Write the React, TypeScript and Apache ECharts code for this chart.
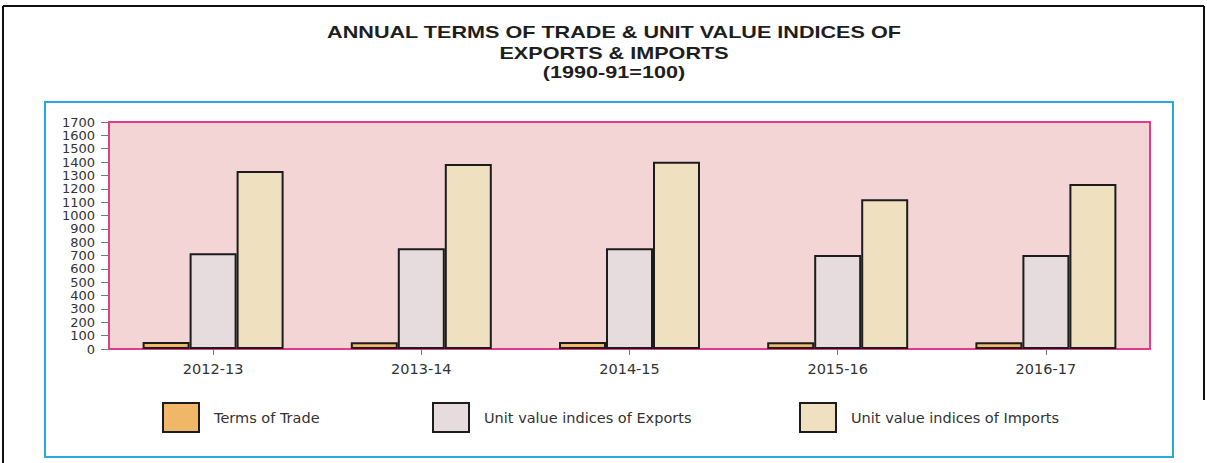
import React, { useEffect, useRef } from 'react';
import * as echarts from 'echarts';

const categories = ['2012-13', '2013-14', '2014-15', '2015-16', '2016-17'];
const termsOfTrade = [52, 50, 52, 50, 50];
const exportIndices = [718, 754, 754, 704, 704];
const importIndices = [1333, 1386, 1403, 1121, 1236];
const seriesNames = ['Terms of Trade', 'Unit value indices of Exports', 'Unit value indices of Imports'];
const titleLines = ['ANNUAL TERMS OF TRADE & UNIT VALUE INDICES OF', 'EXPORTS & IMPORTS', '(1990-91=100)'];

const FONT = '"DejaVu Sans", "Liberation Sans", Arial, sans-serif';
const TEXT = '#333333';

export default function App() {
  const ref = useRef<HTMLDivElement>(null);
  useEffect(() => {
    const chart = echarts.init(ref.current!, null, { renderer: 'svg' });
    const border = { borderColor: '#1c1c1c', borderWidth: 2 };
    const legendBase = {
      top: 397,
      itemWidth: 36,
      itemHeight: 29,
      icon: 'rect',
      itemGap: 0,
      selectedMode: false,
      textStyle: { fontFamily: FONT, fontSize: 14.5, color: TEXT, padding: [0, 0, 0, 10] },
    };
    const titleY = [33, 54, 73];
    chart.setOption({
      animation: false,
      backgroundColor: '#ffffff',
      graphic: [
        { type: 'line', shape: { x1: 3, y1: 6, x2: 1204, y2: 6 }, style: { stroke: '#111', lineWidth: 2 } },
        { type: 'line', shape: { x1: 3, y1: 6, x2: 3, y2: 463 }, style: { stroke: '#111', lineWidth: 2 } },
        { type: 'line', shape: { x1: 1204, y1: 6, x2: 1204, y2: 400 }, style: { stroke: '#111', lineWidth: 2 } },
        {
          type: 'rect',
          shape: { x: 45, y: 102, width: 1128, height: 355 },
          style: { fill: 'none', stroke: '#2aa8df', lineWidth: 2 },
          z: -1,
        },
        ...titleLines.map((t, i) => ({
          type: 'text',
          x: 614,
          y: titleY[i],
          scaleX: 1.35,
          style: {
            text: t,
            align: 'center',
            verticalAlign: 'middle',
            fontFamily: '"Liberation Sans", Arial, sans-serif',
            fontWeight: 'bold',
            fontSize: 16,
            fill: '#1e1e1e',
          },
        })),
      ],
      legend: [
        { ...legendBase, left: 157, data: [seriesNames[0]] },
        { ...legendBase, left: 427, data: [seriesNames[1]] },
        { ...legendBase, left: 794, data: [seriesNames[2]] },
      ],
      grid: {
        left: 109,
        top: 122,
        width: 1041,
        height: 227,
        show: true,
        backgroundColor: '#f4d5d5',
        borderColor: '#e4398c',
        borderWidth: 2,
      },
      xAxis: {
        type: 'category',
        data: categories,
        axisLine: { show: true, lineStyle: { color: '#e4398c', width: 2 } },
        axisTick: { show: true, alignWithLabel: true, length: 6, lineStyle: { color: '#777' } },
        axisLabel: { fontFamily: FONT, fontSize: 14.5, color: TEXT, margin: 12 },
        splitLine: { show: false },
      },
      yAxis: {
        type: 'value',
        min: 0,
        max: 1700,
        interval: 100,
        axisLine: { show: true, lineStyle: { color: '#e4398c', width: 2 } },
        axisTick: { show: true, length: 8, lineStyle: { color: '#777' } },
        axisLabel: {
          fontFamily: FONT,
          fontSize: 13,
          color: TEXT,
          margin: 14,
          formatter: (v: number) => String(v),
        },
        splitLine: { show: false },
      },
      series: [
        {
          name: seriesNames[0],
          type: 'bar',
          data: termsOfTrade,
          barWidth: 47,
          barGap: '0%',
          itemStyle: { color: '#efb767', ...border },
        },
        {
          name: seriesNames[1],
          type: 'bar',
          data: exportIndices,
          barWidth: 47,
          barGap: '0%',
          itemStyle: { color: '#e7dcdd', ...border },
        },
        {
          name: seriesNames[2],
          type: 'bar',
          data: importIndices,
          barWidth: 47,
          barGap: '0%',
          itemStyle: { color: '#efe0bf', ...border },
        },
      ],
    });
    return () => chart.dispose();
  }, []);
  return (
    <div
      ref={ref}
      style={{ position: 'fixed', left: 0, top: 0, width: 1207, height: 463, background: '#fff' }}
    />
  );
}
